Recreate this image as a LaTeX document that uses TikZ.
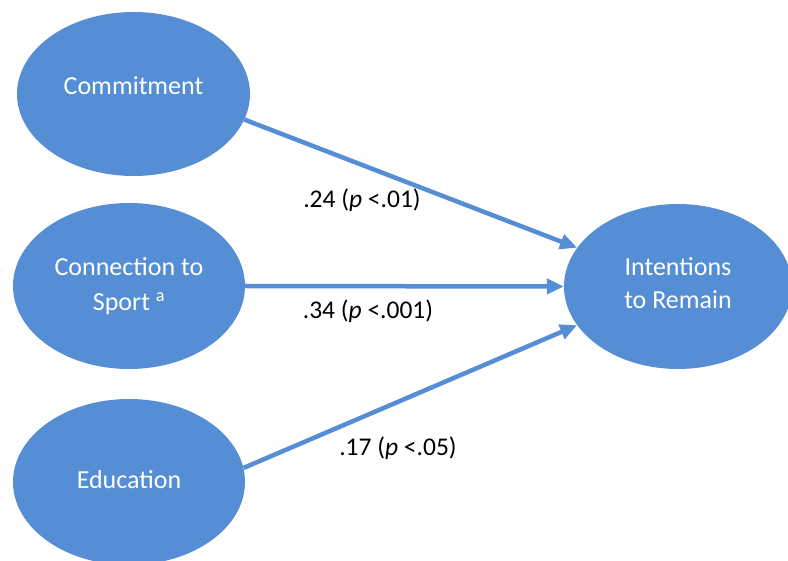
\documentclass[tikz,border=0pt]{standalone}
\usepackage{fontspec}
\setmainfont{Carlito}
\usetikzlibrary{shapes.geometric,arrows.meta}
\definecolor{nodeblue}{HTML}{558ED5}
% lift text inside a node without changing its box
\newcommand{\liftby}[2]{\raisebox{#1}[\height][\depth]{#2}}
\tikzset{
  factor/.style={ellipse, fill=nodeblue, draw=none, inner sep=0pt,
    minimum width=233pt, minimum height=166pt, text=white, align=center,
    font=\fontsize{26}{35}\selectfont},
  path/.style={draw=nodeblue, line width=4.5pt,
    -{Triangle[length=17pt, width=15pt]}},
  coef/.style={font=\fontsize{25.5}{28}\selectfont, text=black, inner sep=0pt}
}
\begin{document}
\begin{tikzpicture}[x=1pt, y=-1pt]
  \fill[white] (0,0) rectangle (788,561);
  \useasboundingbox (0,0) rectangle (788,561);

  % predictors
  \node[factor, minimum height=164pt] (comm) at (133.5,94) {\liftby{8pt}{Commitment}};
  \node[factor, minimum width=232pt] (conn) at (129,286) {Connection to\\Sport \textsuperscript{a}};
  \node[factor, minimum width=232pt] (edu) at (129,482) {\liftby{2pt}{Education}};

  % outcome
  \node[factor, minimum width=228pt, minimum height=165pt,
        font=\fontsize{26}{33}\selectfont] (int) at (678,286.5)
        {\liftby{3pt}{Intentions}\\\liftby{3pt}{to Remain}};

  % paths
  \draw[path] (comm.-13) -- (int.159);
  \draw[path] (conn.east) -- (int.west);
  \draw[path] (edu.7) -- (int.201);

  % path coefficients
  \node[coef] (c1) at (362,200) {.24 (\textit{p} <.01)};
  \node[coef] (c2) at (368,311) {.34 (\textit{p} <.001)};
  \node[coef] (c3) at (398,448) {.17 (\textit{p} <.05)};
\end{tikzpicture}
\end{document}
